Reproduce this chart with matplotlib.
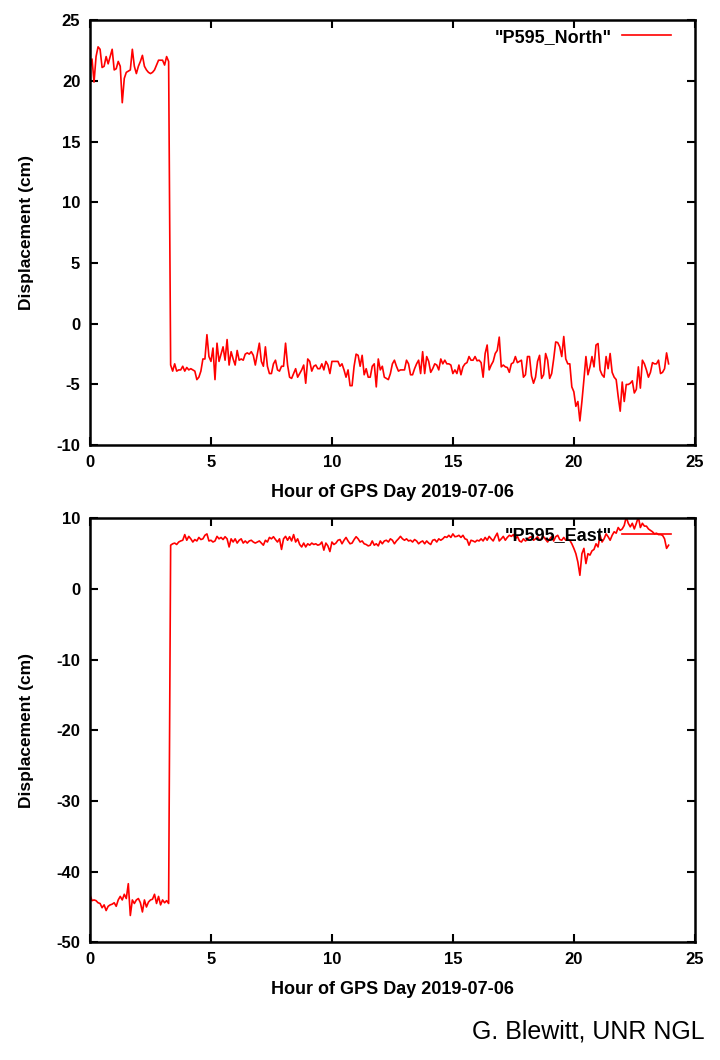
import matplotlib
matplotlib.use("Agg")
import matplotlib.pyplot as plt
import numpy as np

plt.rcParams['font.family'] = ['Liberation Sans', 'DejaVu Sans']
plt.rcParams['axes.unicode_minus'] = False

# 5-minute GPS displacement series (cm), 2019-07-06
north = [
    21.0, 21.8, 19.9, 22.0, 22.8, 22.6, 21.1, 21.2, 22.0, 21.4,
    22.0, 22.6, 20.9, 21.0, 21.6, 21.2, 18.2, 20.2, 20.7, 20.8,
    20.9, 22.6, 21.2, 20.6, 21.2, 21.6, 22.1, 21.2, 20.9, 20.7,
    20.6, 20.7, 20.9, 21.3, 21.7, 21.7, 21.7, 21.3, 22.0, 21.6,
    -3.4, -3.9, -3.3, -3.9, -3.8, -3.8, -3.5, -3.9, -3.6, -3.8,
    -3.7, -3.8, -3.9, -4.6, -4.4, -3.9, -2.9, -2.9, -0.9, -2.7,
    -3.1, -2.0, -4.6, -1.6, -3.1, -2.5, -1.9, -3.0, -1.3, -3.4,
    -2.3, -2.9, -3.4, -2.2, -3.0, -2.9, -3.0, -2.5, -2.4, -2.5,
    -2.3, -2.6, -3.4, -2.5, -1.6, -3.1, -3.5, -1.9, -3.5, -4.1,
    -4.1, -3.3, -3.0, -3.8, -3.9, -3.5, -3.5, -1.6, -3.4, -4.4,
    -4.5, -4.1, -3.7, -4.4, -4.1, -3.8, -3.4, -4.9, -2.9, -3.1,
    -3.9, -3.5, -3.4, -3.7, -3.7, -3.3, -3.8, -3.1, -3.4, -4.1,
    -3.1, -3.1, -3.1, -3.1, -3.5, -3.3, -3.8, -4.4, -3.8, -5.1,
    -5.1, -3.5, -2.5, -2.6, -3.5, -2.6, -4.2, -3.7, -4.4, -4.4,
    -3.5, -3.3, -5.2, -2.9, -3.8, -3.5, -4.4, -4.5, -4.6, -4.1,
    -3.3, -3.0, -3.5, -3.9, -3.8, -3.8, -3.8, -3.0, -3.3, -4.2,
    -4.2, -3.7, -3.3, -3.0, -4.1, -2.3, -4.1,
    -2.7, -3.1, -4.0, -3.7, -3.3, -3.4, -3.8, -2.9, -3.3, -3.0,
    -3.3, -3.3, -3.4, -4.1, -3.8, -4.1, -3.4, -4.2, -3.55, -3.3,
    -3.2, -2.7, -3.0, -3.0, -2.7, -3.05, -3.0, -3.2, -4.4, -2.45,
    -1.75, -3.8, -3.4, -3.1, -2.45, -2.2, -1.1, -3.55, -3.4, -3.55,
    -3.6, -4.0, -3.3, -3.2, -2.7, -3.2, -3.1, -3.0, -4.4, -4.2,
    -2.7, -2.7, -4.3, -4.9, -4.4, -3.1, -2.6, -4.5, -4.2, -2.45,
    -3.0, -4.5, -4.1, -2.9, -1.5, -1.55, -1.9, -2.7, -1.05, -2.9,
    -3.3, -3.3, -5.2, -5.6, -6.8, -6.4, -8.0, -6.4, -4.6, -2.7,
    -4.2, -3.55, -2.7, -3.55, -1.75, -1.63, -3.8, -4.2, -4.4, -2.7,
    -3.7, -2.45, -4.0, -4.4, -4.6, -6.0, -7.2, -4.8, -6.4, -5.0,
    -5.0, -4.9, -4.7, -5.7, -5.4, -3.55, -5.3, -3.0, -3.3, -3.8,
    -4.4, -4.0, -3.2, -3.3, -3.3, -3.0, -4.1, -4.0, -3.7, -2.4,
    -3.3,
]

east = [
    -43.3, -44.1, -44.0, -44.1, -44.4, -44.5, -45.1, -44.7, -45.5, -44.9,
    -44.7, -44.6, -44.4, -44.9, -44.0, -43.5, -44.0, -43.2, -43.8, -41.7,
    -46.2, -44.0, -44.5, -44.0, -43.8, -44.4, -45.7, -44.0, -45.0, -44.3,
    -44.0, -43.9, -43.2, -44.5, -43.5, -44.7, -44.0, -44.4, -44.1, -44.5,
    6.2, 6.4, 6.5, 6.3, 6.65, 6.8, 6.9, 7.7, 6.9, 7.45,
    7.1, 6.65, 7.0, 6.8, 7.3, 7.0, 7.1, 7.6, 7.8, 6.8,
    6.9, 6.65, 6.8, 7.45, 7.1, 7.3, 7.0, 7.4, 7.1, 5.95,
    7.1, 6.65, 7.1, 6.5, 6.9, 7.1, 6.5, 6.8, 6.5, 6.8,
    6.9, 6.65, 6.5, 6.65, 6.8, 6.5, 6.2, 6.9, 6.65, 7.3,
    7.1, 7.4, 7.0, 6.65, 7.1, 5.6, 7.1, 7.45, 6.9, 7.4,
    6.8, 7.7, 6.65, 7.1, 6.3, 5.95, 6.5, 5.95, 6.4, 6.2,
    6.5, 6.3, 6.4, 6.2, 6.3, 6.65, 5.5, 6.5, 6.1, 5.3,
    6.65, 6.3, 6.5, 6.9, 7.0, 6.4, 6.9, 7.3, 6.8, 6.4,
    6.5, 7.0, 7.4, 7.1, 6.65, 6.8, 6.4, 6.3, 6.1, 6.2,
    6.8, 6.2, 6.4, 6.1, 6.8, 6.4, 6.8, 6.9,
    6.65, 7.1, 6.9, 6.4, 6.8, 7.1, 7.45, 7.1, 6.9, 7.1,
    6.8, 6.9, 6.65, 7.0, 6.8, 6.4, 6.65, 6.8, 6.4, 6.8,
    6.5, 6.3, 6.9, 7.0, 6.65, 7.1, 6.9, 7.1, 7.4, 7.3,
    7.6, 7.3, 7.8, 7.4, 7.45, 7.6, 7.3, 7.6, 7.1, 7.0,
    6.2, 6.9, 6.8, 6.65, 6.9, 6.8, 7.1, 6.8, 7.3, 6.9,
    7.45, 7.1, 6.8, 7.4, 7.9, 6.8, 7.1, 7.45, 6.9, 7.3,
    7.6, 7.45, 7.7, 7.1, 7.45, 6.8, 6.65, 7.1, 6.8, 7.0,
    7.3, 7.4, 6.9, 7.1, 7.4, 6.9, 7.1, 7.4, 7.0, 6.65,
    7.1, 7.4, 6.8, 7.4, 7.6, 7.0, 6.9, 7.3, 6.9, 7.0,
    6.9, 6.4, 5.75, 5.0, 3.8, 1.94, 5.0, 5.75, 3.6, 5.0,
    4.8, 5.4, 5.6, 6.4, 5.95, 7.6, 6.65, 7.1, 7.8, 7.4,
    6.9, 7.6, 8.1, 7.9, 8.7, 8.3, 8.5, 9.0, 10.2, 9.3,
    8.8, 9.3, 8.5, 9.3, 10.2, 8.7, 9.3, 8.9, 8.9, 8.5,
    8.3, 8.1, 7.8, 7.9, 7.7, 7.7, 7.6, 7.1, 5.75, 6.2,
]

hours_n = np.arange(len(north)) / 12.0
hours_e = np.arange(len(east)) / 12.0

fig = plt.figure(figsize=(7.2, 10.6), dpi=100)
ax1 = fig.add_axes([0.125, 0.580, 0.840, 0.401])
ax2 = fig.add_axes([0.125, 0.111, 0.840, 0.400])

panels = [
    (ax1, hours_n, north, '"P595_North"', (-10, 25), np.arange(-10, 26, 5)),
    (ax2, hours_e, east, '"P595_East"', (-50, 10), np.arange(-50, 11, 10)),
]

for ax, t, y, name, ylim, yt in panels:
    ax.plot(t, y, color='red', lw=1.2, label=name)
    ax.set_xlim(0, 25)
    ax.set_ylim(*ylim)
    ax.set_xticks(np.arange(0, 26, 5))
    ax.set_yticks(yt)
    ax.tick_params(direction='in', length=6, width=1.5, top=True, right=True,
                   labelsize=12, pad=7)
    for lab in ax.get_xticklabels() + ax.get_yticklabels():
        lab.set_fontweight('bold')
    for s in ax.spines.values():
        s.set_linewidth(1.8)
    ax.set_ylabel('Displacement (cm)', fontsize=12.5, fontweight='bold', labelpad=16)
    ax.set_xlabel('Hour of GPS Day 2019-07-06', fontsize=13, fontweight='bold', labelpad=10)
    ax.legend(loc='upper right', bbox_to_anchor=(0.973, 0.997), borderaxespad=0,
              frameon=False, markerfirst=False, handlelength=2.7, handletextpad=0.6,
              prop={'size': 13, 'weight': 'bold'})

fig.text(0.979, 0.027, 'G. Blewitt, UNR NGL', ha='right', va='center', fontsize=18)

fig.savefig('out.png', dpi=100)
